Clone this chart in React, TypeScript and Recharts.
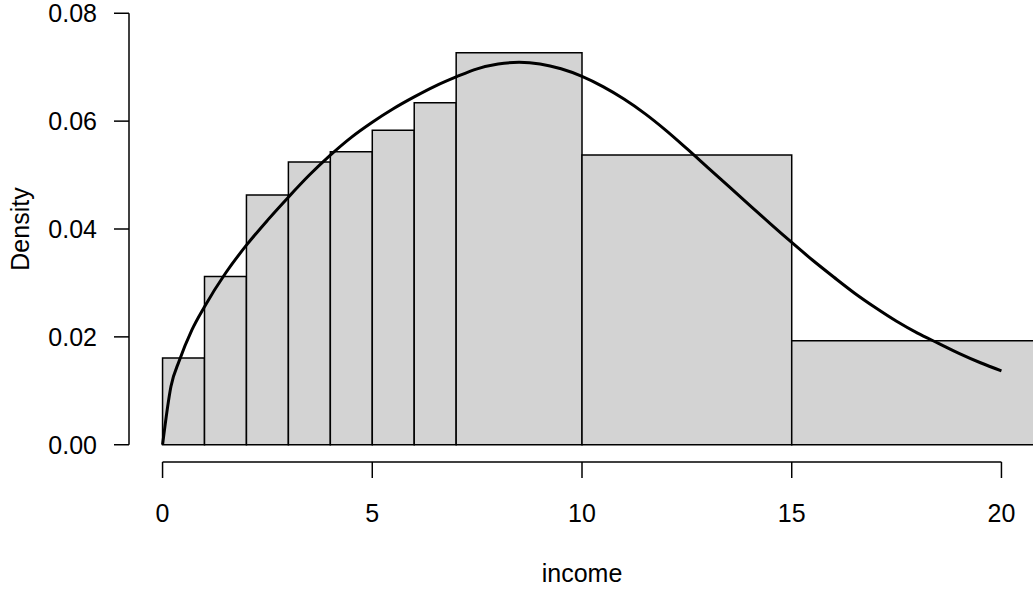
import React from "react";
import {
  ComposedChart,
  Line,
  XAxis,
  YAxis,
  ReferenceArea,
  ReferenceLine,
  Label,
} from "recharts";

// histogram bins (income) and their densities
const BREAKS = [0, 1, 2, 3, 4, 5, 6, 7, 10, 15, 25];
const DENSITIES = [0.0161, 0.0312, 0.0463, 0.0524, 0.0543, 0.0583, 0.0634, 0.0727, 0.0537, 0.0193];

// fitted density curve
const CURVE_X = [
  0, 0.2, 0.4, 0.7, 1, 1.5, 2, 2.5, 3, 3.5, 4, 4.5, 5, 5.5, 6, 6.5, 7, 7.5, 8, 8.5, 9, 9.5, 10,
  10.5, 11, 11.5, 12, 12.5, 13, 13.5, 14, 14.5, 15, 15.5, 16, 16.5, 17, 17.5, 18, 18.5, 19, 19.5, 20,
];
const CURVE_Y = [
  0, 0.0108, 0.0156, 0.0213, 0.0256, 0.0318, 0.037, 0.0416, 0.0459, 0.05, 0.0537, 0.057, 0.0598,
  0.0623, 0.0645, 0.0665, 0.0682, 0.0697, 0.0706, 0.0709, 0.0706, 0.0697, 0.0683, 0.0664, 0.0641,
  0.0614, 0.0583, 0.0549, 0.0514, 0.0479, 0.0444, 0.0409, 0.0375, 0.0342, 0.0311, 0.0281, 0.0254,
  0.0229, 0.0207, 0.0188, 0.0169, 0.0152, 0.0137,
];

const X_TICKS = [0, 5, 10, 15, 20];
const Y_TICKS = [0, 0.02, 0.04, 0.06, 0.08];

const X_DOMAIN = [-0.8, 20.8];
const Y_DOMAIN = [-0.0032, 0.0832];

const FONT = "'Liberation Sans', Arial, Helvetica, sans-serif";
const FS = 25;

const data = CURVE_X.map((x, i) => ({ x, d: CURVE_Y[i] }));
const bins = DENSITIES.map((d, i) => ({ x1: BREAKS[i], x2: BREAKS[i + 1], d }));

const IncomeLabel = (props: any) => {
  const vb = props.viewBox || { x: 129, y: 466, width: 906, height: 131 };
  const cx = vb.x + vb.width / 2;
  const y = vb.y + vb.height - 11;
  return (
    <text x={cx} y={y} textAnchor="middle" fontSize={FS} fill="#000" fontFamily={FONT}>
      income
    </text>
  );
};

const DensityLabel = (props: any) => {
  const vb = props.viewBox || { x: 0, y: 0, width: 129, height: 466 };
  const cx = 28.5;
  const cy = vb.y + vb.height / 2;
  return (
    <text
      x={cx}
      y={cy}
      transform={`rotate(-90 ${cx} ${cy})`}
      textAnchor="middle"
      fontSize={FS}
      fill="#000"
      fontFamily={FONT}
    >
      Density
    </text>
  );
};

export default function App() {
  return (
    <div
      style={{
        position: "absolute",
        left: 0,
        top: 0,
        width: 1033,
        height: 593,
        overflow: "hidden",
        background: "#fff",
        fontFamily: FONT,
      }}
    >
      <div style={{ position: "relative", top: -4 }}>
        <ComposedChart
          width={1035}
          height={597}
          data={data}
          margin={{ top: 0, right: 0, bottom: 0, left: 0 }}
        >
          <XAxis
            type="number"
            dataKey="x"
            domain={X_DOMAIN}
            allowDataOverflow
            ticks={X_TICKS}
            interval={0}
            height={131}
            axisLine={false}
            tickLine={{ stroke: "#000", strokeWidth: 1.5 }}
            tickSize={16}
            tickMargin={26}
            tick={{ fill: "#000", fontSize: FS, fontFamily: FONT }}
          >
            <Label content={IncomeLabel} />
          </XAxis>
          <YAxis
            type="number"
            domain={Y_DOMAIN}
            allowDataOverflow
            ticks={Y_TICKS}
            interval={0}
            width={129}
            axisLine={false}
            tickLine={{ stroke: "#000", strokeWidth: 1.5 }}
            tickSize={15}
            tickMargin={17}
            tickFormatter={(v: number) => v.toFixed(2)}
            tick={{ fill: "#000", fontSize: FS, fontFamily: FONT }}
          >
            <Label content={DensityLabel} />
          </YAxis>

          {bins.map((b) => (
            <ReferenceArea
              key={b.x1}
              x1={b.x1}
              x2={b.x2}
              y1={0}
              y2={b.d}
              ifOverflow="hidden"
              fill="#d3d3d3"
              fillOpacity={1}
              stroke="#000"
              strokeWidth={1.5}
            />
          ))}

          {/* R-style axis lines that only span the tick range */}
          <ReferenceLine
            segment={[
              { x: X_DOMAIN[0], y: Y_TICKS[0] },
              { x: X_DOMAIN[0], y: Y_TICKS[Y_TICKS.length - 1] },
            ]}
            ifOverflow="visible"
            stroke="#000"
            strokeWidth={1.5}
          />
          <ReferenceLine
            segment={[
              { x: X_TICKS[0], y: Y_DOMAIN[0] },
              { x: X_TICKS[X_TICKS.length - 1], y: Y_DOMAIN[0] },
            ]}
            ifOverflow="visible"
            stroke="#000"
            strokeWidth={1.5}
          />

          <Line
            type="monotone"
            dataKey="d"
            stroke="#000"
            strokeWidth={3}
            dot={false}
            activeDot={false}
            isAnimationActive={false}
          />
        </ComposedChart>
      </div>
    </div>
  );
}
